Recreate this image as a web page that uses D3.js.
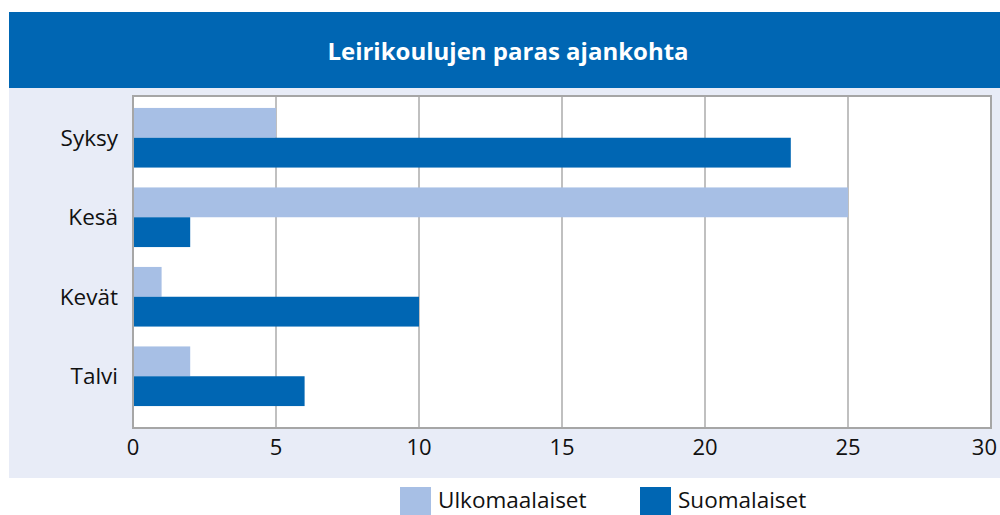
<!DOCTYPE html>
<html>
<head>
<meta charset="utf-8">
<script src="https://cdn.jsdelivr.net/npm/d3@7"></script>
<style>
  html, body { margin: 0; padding: 0; background: #fff; }
  svg { display: block; font-family: "Open Sans", "Noto Sans", sans-serif; }
</style>
</head>
<body>
<div id="chart"></div>
<script>
// data
const categories = ["Syksy", "Kesä", "Kevät", "Talvi"];
const seriesNames = ["Ulkomaalaiset", "Suomalaiset"];
const ulkomaalaiset = [5, 25, 1, 2];
const suomalaiset = [23, 2, 10, 6];
const xTicks = [0, 5, 10, 15, 20, 25, 30];

const colors = ["#a7bfe5", "#0066b3"];
const width = 1000, height = 515;

const svg = d3.select("#chart").append("svg")
    .attr("width", width)
    .attr("height", height);

// title band + light panel
svg.append("rect")
    .attr("x", 9).attr("y", 12)
    .attr("width", width - 9).attr("height", 76)
    .attr("fill", "#0066b3");
svg.append("rect")
    .attr("x", 9).attr("y", 88)
    .attr("width", width - 9).attr("height", 390)
    .attr("fill", "#e8ecf7");

svg.append("text")
    .attr("x", 508).attr("y", 60)
    .attr("text-anchor", "middle")
    .attr("fill", "#fff")
    .attr("font-weight", "bold")
    .attr("font-size", 24)
    .text("Leirikoulujen paras ajankohta");

const plot = {left: 133, right: 991, top: 96, bottom: 428};

const x = d3.scaleLinear().domain([0, 30]).range([plot.left, plot.right]);
const y = d3.scaleBand().domain(categories).range([98, 416])
    .paddingInner(0.25).paddingOuter(0.125);
const ySub = d3.scaleBand().domain(seriesNames).range([0, y.bandwidth()]);

// plot area
svg.append("rect")
    .attr("x", plot.left).attr("y", plot.top)
    .attr("width", plot.right - plot.left).attr("height", plot.bottom - plot.top)
    .attr("fill", "#fff");

// grid
svg.append("g")
  .selectAll("line")
  .data(xTicks.slice(1, -1))
  .join("line")
    .attr("x1", d => x(d)).attr("x2", d => x(d))
    .attr("y1", plot.top).attr("y2", plot.bottom)
    .attr("stroke", "#ababab")
    .attr("stroke-width", 1.5);

// bars
const rows = categories.map((c, i) => ({cat: c, values: [ulkomaalaiset[i], suomalaiset[i]]}));

svg.append("g")
  .selectAll("g")
  .data(rows)
  .join("g")
    .attr("transform", d => `translate(0,${y(d.cat)})`)
  .selectAll("rect")
  .data(d => d.values.map((v, j) => ({name: seriesNames[j], value: v, j})))
  .join("rect")
    .attr("x", x(0))
    .attr("y", d => ySub(d.name))
    .attr("width", d => x(d.value) - x(0))
    .attr("height", ySub.bandwidth())
    .attr("fill", d => colors[d.j]);

// frame
svg.append("rect")
    .attr("x", plot.left).attr("y", plot.top)
    .attr("width", plot.right - plot.left).attr("height", plot.bottom - plot.top)
    .attr("fill", "none")
    .attr("stroke", "#a6a6a6")
    .attr("stroke-width", 2);

// category labels
svg.append("g")
  .selectAll("text")
  .data(categories)
  .join("text")
    .attr("x", 118)
    .attr("y", d => y(d) + y.bandwidth() / 2)
    .attr("dy", "0.35em")
    .attr("text-anchor", "end")
    .attr("font-size", 22.5)
    .attr("fill", "#111")
    .text(d => d);

// x axis labels (last one kept inside the page edge)
svg.append("g")
  .selectAll("text")
  .data(xTicks)
  .join("text")
    .attr("x", (d, i) => i === xTicks.length - 1 ? 997 : x(d))
    .attr("y", 455)
    .attr("text-anchor", (d, i) => i === xTicks.length - 1 ? "end" : "middle")
    .attr("font-size", 22)
    .attr("fill", "#111")
    .text(d => d);

// legend
const legendX = [400, 640];
const legend = svg.append("g")
  .selectAll("g")
  .data(seriesNames)
  .join("g")
    .attr("transform", (d, i) => `translate(${legendX[i]},487)`);
legend.append("rect")
    .attr("width", 31).attr("height", 28)
    .attr("fill", (d, i) => colors[i]);
legend.append("text")
    .attr("x", 38).attr("y", 21)
    .attr("font-size", 22.5)
    .attr("fill", "#111")
    .text(d => d);
</script>
</body>
</html>
